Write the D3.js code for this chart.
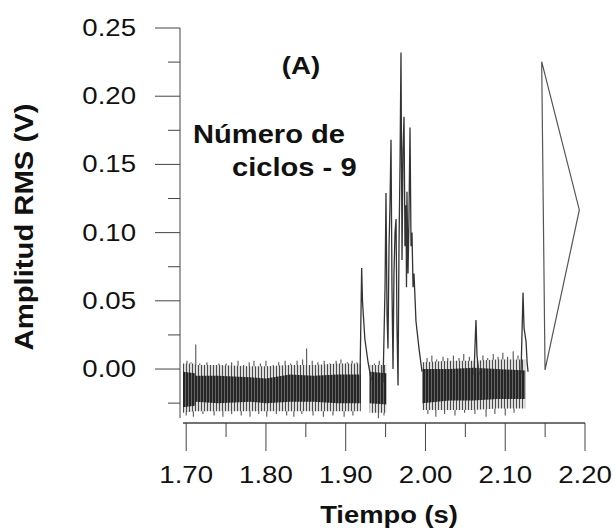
<!DOCTYPE html>
<html lang="es">
<head>
    <meta charset="UTF-8">
    <script type="text/javascript" src="https://d3js.org/d3.v7.min.js"></script>
    <title>Amplitud RMS</title>
    <style>
        body { margin: 0; background: #fff; }
        text { font-family: "Liberation Sans", Arial, sans-serif; fill: #111; }
    </style>
</head>
<body>
    <script type="text/javascript">
        // noise band: dense core + lighter fringe, null = gap
        const bandT    = [1.696, 1.711, 1.712, 1.740, 1.780, 1.800, 1.830, 1.860, 1.890, 1.919, null, 1.930, 1.951, null, 1.996, 2.030, 2.060, 2.090, 2.125];
        const coreHi   = [-0.002, -0.003, -0.005, -0.005, -0.006, -0.007, -0.004, -0.005, -0.004, -0.004, null, -0.002, -0.003, null, 0.000, 0.000, 0.001, 0.000, -0.001];
        const coreLo   = [-0.028, -0.027, -0.024, -0.025, -0.024, -0.025, -0.024, -0.024, -0.025, -0.025, null, -0.025, -0.026, null, -0.025, -0.023, -0.023, -0.022, -0.022];
        const fringeHi = [0.004, 0.004, 0.003, 0.003, 0.002, 0.002, 0.003, 0.003, 0.004, 0.004, null, 0.003, 0.003, null, 0.005, 0.006, 0.006, 0.007, 0.007];
        const fringeLo = [-0.032, -0.031, -0.031, -0.031, -0.031, -0.031, -0.031, -0.031, -0.031, -0.031, null, -0.032, -0.032, null, -0.030, -0.030, -0.030, -0.029, -0.029];
        const bandMid = -0.014;

        // needles sticking out of the band
        const upT = [1.701, 1.706, 1.712, 1.717, 1.726, 1.732, 1.741, 1.750, 1.757, 1.765, 1.772, 1.779, 1.785, 1.793, 1.800, 1.809, 1.816, 1.824, 1.831, 1.839, 1.846, 1.851, 1.858, 1.865, 1.873, 1.880, 1.888, 1.894, 1.902, 1.908, 1.914, 1.936, 1.942, 2.002, 2.008, 2.014, 2.022, 2.028, 2.035, 2.042, 2.048, 2.055, 2.072, 2.078, 2.085, 2.091, 2.097, 2.103, 2.110, 2.116];
        const upV = [0.006, 0.005, 0.018, 0.004, 0.005, 0.003, 0.004, 0.004, 0.005, 0.006, 0.003, 0.005, 0.006, 0.004, 0.006, 0.003, 0.005, 0.006, 0.004, 0.006, 0.007, 0.015, 0.006, 0.005, 0.006, 0.004, 0.006, 0.007, 0.005, 0.006, 0.005, 0.004, 0.006, 0.008, 0.010, 0.007, 0.009, 0.008, 0.010, 0.008, 0.011, 0.009, 0.010, 0.008, 0.011, 0.009, 0.012, 0.009, 0.013, 0.010];
        const downT = [1.700, 1.709, 1.721, 1.735, 1.746, 1.757, 1.769, 1.780, 1.791, 1.801, 1.813, 1.826, 1.835, 1.845, 1.859, 1.872, 1.884, 1.898, 1.909, 1.941, 1.948, 2.003, 2.013, 2.024, 2.037, 2.049, 2.062, 2.076, 2.087, 2.100, 2.111];
        const downV = [-0.034, -0.035, -0.033, -0.034, -0.035, -0.033, -0.034, -0.035, -0.033, -0.035, -0.033, -0.034, -0.035, -0.033, -0.034, -0.035, -0.034, -0.035, -0.034, -0.036, -0.034, -0.033, -0.035, -0.033, -0.034, -0.032, -0.033, -0.035, -0.033, -0.034, -0.032];

        // bursts (null = gap)
        const traceT = [1.918, 1.920, 1.921, 1.924, 1.928, 1.932, null,
                        1.9468, 1.9493, 1.9505, 1.9518, 1.9530, 1.9543, 1.9555, 1.9568, 1.9580, 1.9593, 1.9605, 1.9618, 1.9631, 1.9643, 1.9656,
                        1.9668, 1.9681, 1.9693, 1.9706, 1.9718, 1.9731, 1.9743, 1.9756, 1.9762, 1.9768, 1.9781, 1.9793, 1.9806, 1.9819, 1.9831,
                        1.9844, 1.9856, 1.9881, 1.9919, 1.9957, null,
                        2.0608, 2.0633, 2.0646, 2.0671, null,
                        2.1198, 2.1223, 2.1236, 2.1261, 2.1274, 2.1286];
        const traceV = [-0.004, 0.074, 0.050, 0.022, 0.005, -0.008, null,
                        -0.010, 0.060, 0.129, 0.040, 0.015, 0.090, 0.120, 0.168, 0.060, 0.000, 0.070, 0.100, 0.110, 0.030, -0.012,
                        0.090, 0.150, 0.232, 0.080, 0.160, 0.185, 0.090, 0.120, 0.060, 0.130, 0.070, 0.110, 0.177, 0.090, 0.100,
                        0.060, 0.070, 0.035, 0.015, -0.002, null,
                        -0.004, 0.036, 0.010, -0.004, null,
                        -0.003, 0.056, 0.030, 0.020, 0.005, -0.002];

        // closing triangle
        const triT = [2.1457, 2.1929, 2.1499];
        const triV = [0.2253, 0.1166, -0.0007];

        const xMajor = [1.70, 1.80, 1.90, 2.00, 2.10, 2.20];
        const xMinor = [1.75, 1.85, 1.95, 2.05, 2.15];
        const yMajor = [0.00, 0.05, 0.10, 0.15, 0.20, 0.25];
        const yMinor = [-0.025, 0.025, 0.075, 0.125, 0.175, 0.225];

        const width = 616;
        const height = 530;
        const stretch = 1.2;

        const svg = d3.select('body')
            .append('svg')
            .attr('width', width)
            .attr('height', height);

        const defs = svg.append('defs');
        const core = defs.append('pattern')
            .attr('id', 'core').attr('patternUnits', 'userSpaceOnUse')
            .attr('width', 3).attr('height', 6);
        core.append('rect').attr('width', 3).attr('height', 6).attr('fill', '#666');
        core.append('rect').attr('width', 2).attr('height', 6).attr('fill', '#252525');
        const fringe = defs.append('pattern')
            .attr('id', 'fringe').attr('patternUnits', 'userSpaceOnUse')
            .attr('width', 3).attr('height', 6);
        fringe.append('rect').attr('width', 3).attr('height', 6).attr('fill', '#dcdcdc');
        fringe.append('rect').attr('width', 1).attr('height', 6).attr('fill', '#4a4a4a');

        const x = d3.scaleLinear().domain([1.696, 2.20]).range([183, 585]);
        const y = d3.scaleLinear().domain([-0.04, 0.25]).range([423.6, 28]);

        // needles first, band drawn over them
        const needles = svg.append('g').attr('stroke', '#555').attr('stroke-width', 1.1);
        needles.selectAll('line.up')
            .data(upT.map((t, i) => [t, upV[i]]))
            .enter().append('line')
            .attr('class', 'up')
            .attr('x1', d => x(d[0])).attr('x2', d => x(d[0]))
            .attr('y1', y(bandMid)).attr('y2', d => y(d[1]));
        needles.selectAll('line.down')
            .data(downT.map((t, i) => [t, downV[i]]))
            .enter().append('line')
            .attr('class', 'down')
            .attr('x1', d => x(d[0])).attr('x2', d => x(d[0]))
            .attr('y1', y(bandMid)).attr('y2', d => y(d[1]));

        const band = bandT.map((t, i) => ({ t: t, hi: coreHi[i], lo: coreLo[i], fhi: fringeHi[i], flo: fringeLo[i] }));
        svg.append('path')
            .datum(band)
            .attr('d', d3.area()
                .defined(d => d.t !== null)
                .x(d => x(d.t))
                .y0(d => y(d.flo))
                .y1(d => y(d.fhi)))
            .attr('fill', 'url(#fringe)');
        svg.append('path')
            .datum(band)
            .attr('d', d3.area()
                .defined(d => d.t !== null)
                .x(d => x(d.t))
                .y0(d => y(d.lo))
                .y1(d => y(d.hi)))
            .attr('fill', 'url(#core)');

        const trace = traceT.map((t, i) => ({ t: t, v: traceV[i] }));
        svg.append('path')
            .datum(trace)
            .attr('d', d3.line()
                .defined(d => d.t !== null)
                .x(d => x(d.t))
                .y(d => y(d.v)))
            .attr('fill', 'none')
            .attr('stroke', '#333')
            .attr('stroke-width', 1.3);

        svg.append('path')
            .datum(triT.map((t, i) => ({ t: t, v: triV[i] })))
            .attr('d', d3.line().x(d => x(d.t)).y(d => y(d.v)).curve(d3.curveLinearClosed))
            .attr('fill', 'none')
            .attr('stroke', '#555')
            .attr('stroke-width', 1.2);

        // axes
        const axisColor = '#444';
        const yAxisX = 180;
        const xAxisY = 423;

        svg.append('line')
            .attr('x1', yAxisX).attr('x2', yAxisX)
            .attr('y1', y(0.25)).attr('y2', y(-0.036))
            .attr('stroke', axisColor);
        svg.append('line')
            .attr('x1', x(1.696)).attr('x2', x(2.20))
            .attr('y1', xAxisY).attr('y2', xAxisY)
            .attr('stroke', axisColor).attr('stroke-width', 1.3);

        const gy = svg.append('g');
        gy.selectAll('line.major').data(yMajor).enter().append('line')
            .attr('x1', yAxisX - 25).attr('x2', yAxisX)
            .attr('y1', d => y(d)).attr('y2', d => y(d))
            .attr('stroke', axisColor);
        gy.selectAll('line.minor').data(yMinor).enter().append('line')
            .attr('x1', yAxisX - 12).attr('x2', yAxisX)
            .attr('y1', d => y(d)).attr('y2', d => y(d))
            .attr('stroke', axisColor);
        gy.selectAll('text').data(yMajor).enter().append('text')
            .attr('transform', d => `translate(136, ${y(d)}) scale(${stretch}, 1)`)
            .attr('dy', '0.35em')
            .attr('text-anchor', 'end')
            .attr('font-size', 23)
            .text(d3.format('.2f'));

        const gx = svg.append('g');
        gx.selectAll('line.major').data(xMajor).enter().append('line')
            .attr('x1', d => x(d)).attr('x2', d => x(d))
            .attr('y1', xAxisY).attr('y2', xAxisY + 28)
            .attr('stroke', axisColor);
        gx.selectAll('line.minor').data(xMinor).enter().append('line')
            .attr('x1', d => x(d)).attr('x2', d => x(d))
            .attr('y1', xAxisY).attr('y2', xAxisY + 14)
            .attr('stroke', axisColor);
        gx.selectAll('text').data(xMajor).enter().append('text')
            .attr('transform', d => `translate(${x(d)}, 483) scale(${stretch}, 1)`)
            .attr('text-anchor', 'middle')
            .attr('font-size', 23)
            .text(d3.format('.2f'));

        // titles
        svg.append('text')
            .attr('transform', `translate(389, 523) scale(1.14, 1)`)
            .attr('text-anchor', 'middle')
            .attr('font-size', 24)
            .attr('font-weight', 'bold')
            .text('Tiempo (s)');

        svg.append('text')
            .attr('transform', `translate(33, 227) rotate(-90) scale(1.17, 1)`)
            .attr('text-anchor', 'middle')
            .attr('font-size', 25)
            .attr('font-weight', 'bold')
            .text('Amplitud RMS (V)');

        svg.append('text')
            .attr('transform', `translate(301, 74) scale(1.15, 1)`)
            .attr('text-anchor', 'middle')
            .attr('font-size', 24)
            .attr('font-weight', 'bold')
            .text('(A)');

        svg.append('text')
            .attr('transform', `translate(193, 143) scale(1.12, 1)`)
            .attr('font-size', 26)
            .attr('font-weight', 'bold')
            .text('Número de');

        svg.append('text')
            .attr('transform', `translate(232, 176) scale(1.12, 1)`)
            .attr('font-size', 26)
            .attr('font-weight', 'bold')
            .text('ciclos - 9');
    </script>
</body>
</html>
